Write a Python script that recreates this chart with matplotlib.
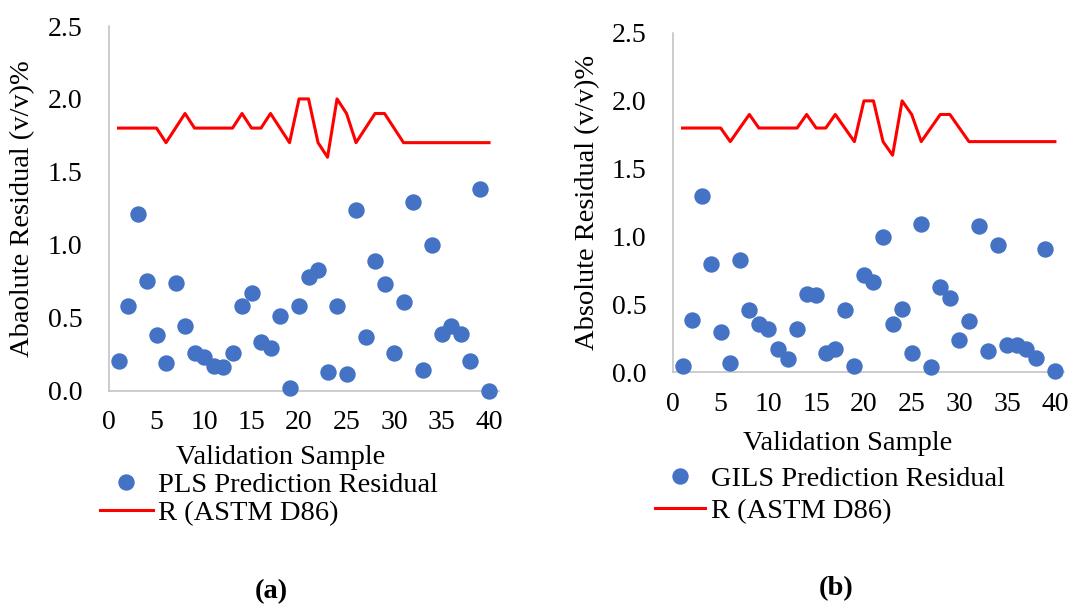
import matplotlib
matplotlib.use("Agg")
import matplotlib.pyplot as plt

plt.rcParams['font.family'] = ['Liberation Serif', 'DejaVu Serif']

# validation sample numbers
samples = list(range(1, 41))

# repeatability limit R (ASTM D86), same in both panels
r_astm = [1.8, 1.8, 1.8, 1.8, 1.8, 1.7, 1.8, 1.9, 1.8, 1.8,
          1.8, 1.8, 1.8, 1.9, 1.8, 1.8, 1.9, 1.8, 1.7, 2.0,
          2.0, 1.7, 1.6, 2.0, 1.9, 1.7, 1.8, 1.9, 1.9, 1.8,
          1.7, 1.7, 1.7, 1.7, 1.7, 1.7, 1.7, 1.7, 1.7, 1.7]

# absolute residuals
pls_resid = [0.20, 0.58, 1.21, 0.75, 0.38, 0.19, 0.74, 0.44, 0.26, 0.23,
             0.17, 0.16, 0.26, 0.58, 0.67, 0.33, 0.29, 0.51, 0.02, 0.58,
             0.78, 0.83, 0.13, 0.58, 0.11, 1.24, 0.37, 0.89, 0.73, 0.26,
             0.61, 1.29, 0.14, 1.00, 0.39, 0.44, 0.39, 0.20, 1.38, 0.00]

gils_resid = [0.05, 0.39, 1.30, 0.80, 0.30, 0.07, 0.83, 0.46, 0.36, 0.32,
              0.17, 0.10, 0.32, 0.58, 0.57, 0.14, 0.17, 0.46, 0.05, 0.72,
              0.67, 1.00, 0.36, 0.47, 0.14, 1.09, 0.04, 0.63, 0.55, 0.24,
              0.38, 1.08, 0.16, 0.94, 0.20, 0.20, 0.17, 0.11, 0.91, 0.01]

xticks = [0, 5, 10, 15, 20, 25, 30, 35, 40]
yticks = [0.0, 0.5, 1.0, 1.5, 2.0, 2.5]

blue = '#4472C4'
grey = '#BFBFBF'

fig = plt.figure(figsize=(10.74, 6.05), dpi=100)

panels = [
    # axes rect, residuals, ylabel, legend name, label spots, legend anchor/options, tag
    dict(rect=[0.1015, 0.3545, 0.3627, 0.6025], vals=pls_resid,
         ylabel='Abaolute Residual (v/v)%', name='PLS Prediction Residual',
         xl=(0.44, -0.185), yl=-0.221, leg=(0.0931, 0.2198),
         hl=1.86, hp=0.18, ls=0.09, tag='(a)', tagpos=(0.2523, 0.0215)),
    dict(rect=[0.6266, 0.3843, 0.3645, 0.5612], vals=gils_resid,
         ylabel='Absolute Residual (v/v)%', name='GILS Prediction Residual',
         xl=(0.447, -0.208), yl=-0.217, leg=(0.6099, 0.2298),
         hl=1.75, hp=0.2, ls=0.23, tag='(b)', tagpos=(0.7784, 0.0264)),
]

for p in panels:
    ax = fig.add_axes(p['rect'])
    ax.plot(samples, p['vals'], linestyle='none', marker='o', markersize=10.8,
            color=blue, label=p['name'], zorder=3, clip_on=False)
    ax.plot(samples, r_astm, color='#FF0000', linewidth=2.2, label='R (ASTM D86)')

    ax.set_xlim(0, 41)
    ax.set_ylim(0, 2.5)
    ax.set_xticks(xticks)
    ax.set_yticks(yticks)
    ax.set_yticklabels(['%.1f' % v for v in yticks])
    ax.tick_params(length=0, labelsize=20)
    ax.tick_params(axis='x', pad=14)
    ax.tick_params(axis='y', pad=19)

    for side in ['top', 'right']:
        ax.spines[side].set_visible(False)
    for side in ['left', 'bottom']:
        ax.spines[side].set_color(grey)
        ax.spines[side].set_linewidth(1.1)

    ax.set_xlabel('Validation Sample', fontsize=20.5)
    ax.xaxis.set_label_coords(*p['xl'])
    ax.xaxis.label.set_verticalalignment('center')
    ax.set_ylabel(p['ylabel'], fontsize=20.5)
    ax.yaxis.set_label_coords(p['yl'], 0.5)
    ax.yaxis.label.set_verticalalignment('center')

    ax.legend(loc='upper left', bbox_to_anchor=p['leg'], bbox_transform=fig.transFigure,
              frameon=False, fontsize=20.5, borderpad=0, borderaxespad=0,
              handlelength=p['hl'], handletextpad=p['hp'], labelspacing=p['ls'],
              numpoints=1)

    fig.text(p['tagpos'][0], p['tagpos'][1], p['tag'], fontsize=20.5,
             fontweight='bold', ha='center', va='center')

fig.savefig('out.png', dpi=100)
